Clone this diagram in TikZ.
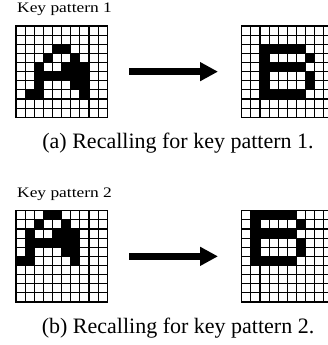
\documentclass[tikz,border=0pt]{standalone}
\usepackage{fontspec}
\setmainfont{Liberation Serif}
\usetikzlibrary{arrows.meta}
\tikzset{
  gridbox/.style={minimum size=91.3pt, inner sep=0pt, outer sep=0pt, draw=none},
  gridline/.style={line width=1.1pt, black, line cap=rect},
  bigarrow/.style={line width=7pt, -{Triangle[length=18pt,width=18pt]}},
  keylabel/.style={anchor=base west, inner sep=0pt, font=\fontsize{14.5}{17}\selectfont},
  captext/.style={anchor=base, inner sep=0pt, font=\fontsize{22}{26}\selectfont},
}
\newcommand\pgrid[3]{%
  \foreach \ri/\ci in {#3} {\fill[black] ({#1+\ci*9.13},{#2+\ri*9.13}) rectangle ++(9.13,9.13);}
  \foreach \kk in {0,...,10} {
    \draw[gridline] ({#1+\kk*9.13},#2) -- ++(0,91.3);
    \draw[gridline] (#1,{#2+\kk*9.13}) -- ++(91.3,0);
  }
}
\begin{document}
\begin{tikzpicture}[x=1pt,y=-1pt]
\useasboundingbox (0,0) rectangle (328,345);
\clip (0,0) rectangle (328,345);
% panel (a)
\node[keylabel] (k1) at (17,12.7) {\scalebox{1.2}[1]{Key pattern 1}};
\node[gridbox] (g1) at (61.65,71.65) {};
\node[gridbox] (g2) at (287.35,71.65) {};
\pgrid{16}{26}{2/4,2/5,3/3,3/6,4/2,4/5,4/6,4/7,5/2,5/3,5/4,5/5,5/6,5/7,6/2,6/6,6/7,7/1,7/2,7/7}
\pgrid{241.7}{26}{2/2,2/3,2/4,2/5,2/6,3/2,3/7,4/2,4/3,4/4,4/5,4/6,5/2,5/7,6/2,6/7,7/2,7/3,7/4,7/5,7/6}
\draw[bigarrow] ([xshift=22pt]g1.east) -- ([xshift=-23.7pt]g2.west);
\node[captext] (ca) at (178,148) {(a) Recalling for key pattern 1.};
% panel (b)
\node[keylabel] (k2) at (17,197.7) {\scalebox{1.2}[1]{Key pattern 2}};
\node[gridbox] (g3) at (61.65,256.35) {};
\node[gridbox] (g4) at (287.35,256.35) {};
\pgrid{16}{210.7}{0/3,0/4,1/2,1/5,2/1,2/4,2/5,2/6,3/1,3/2,3/3,3/4,3/5,3/6,4/1,4/5,4/6,5/0,5/1,5/6}
\pgrid{241.7}{210.7}{0/1,0/2,0/3,0/4,0/5,1/1,1/6,2/1,2/2,2/3,2/4,2/5,3/1,3/6,4/1,4/6,5/1,5/2,5/3,5/4,5/5}
\draw[bigarrow] ([xshift=22pt]g3.east) -- ([xshift=-23.7pt]g4.west);
\node[captext] (cb) at (178,333) {(b) Recalling for key pattern 2.};
\end{tikzpicture}
\end{document}
